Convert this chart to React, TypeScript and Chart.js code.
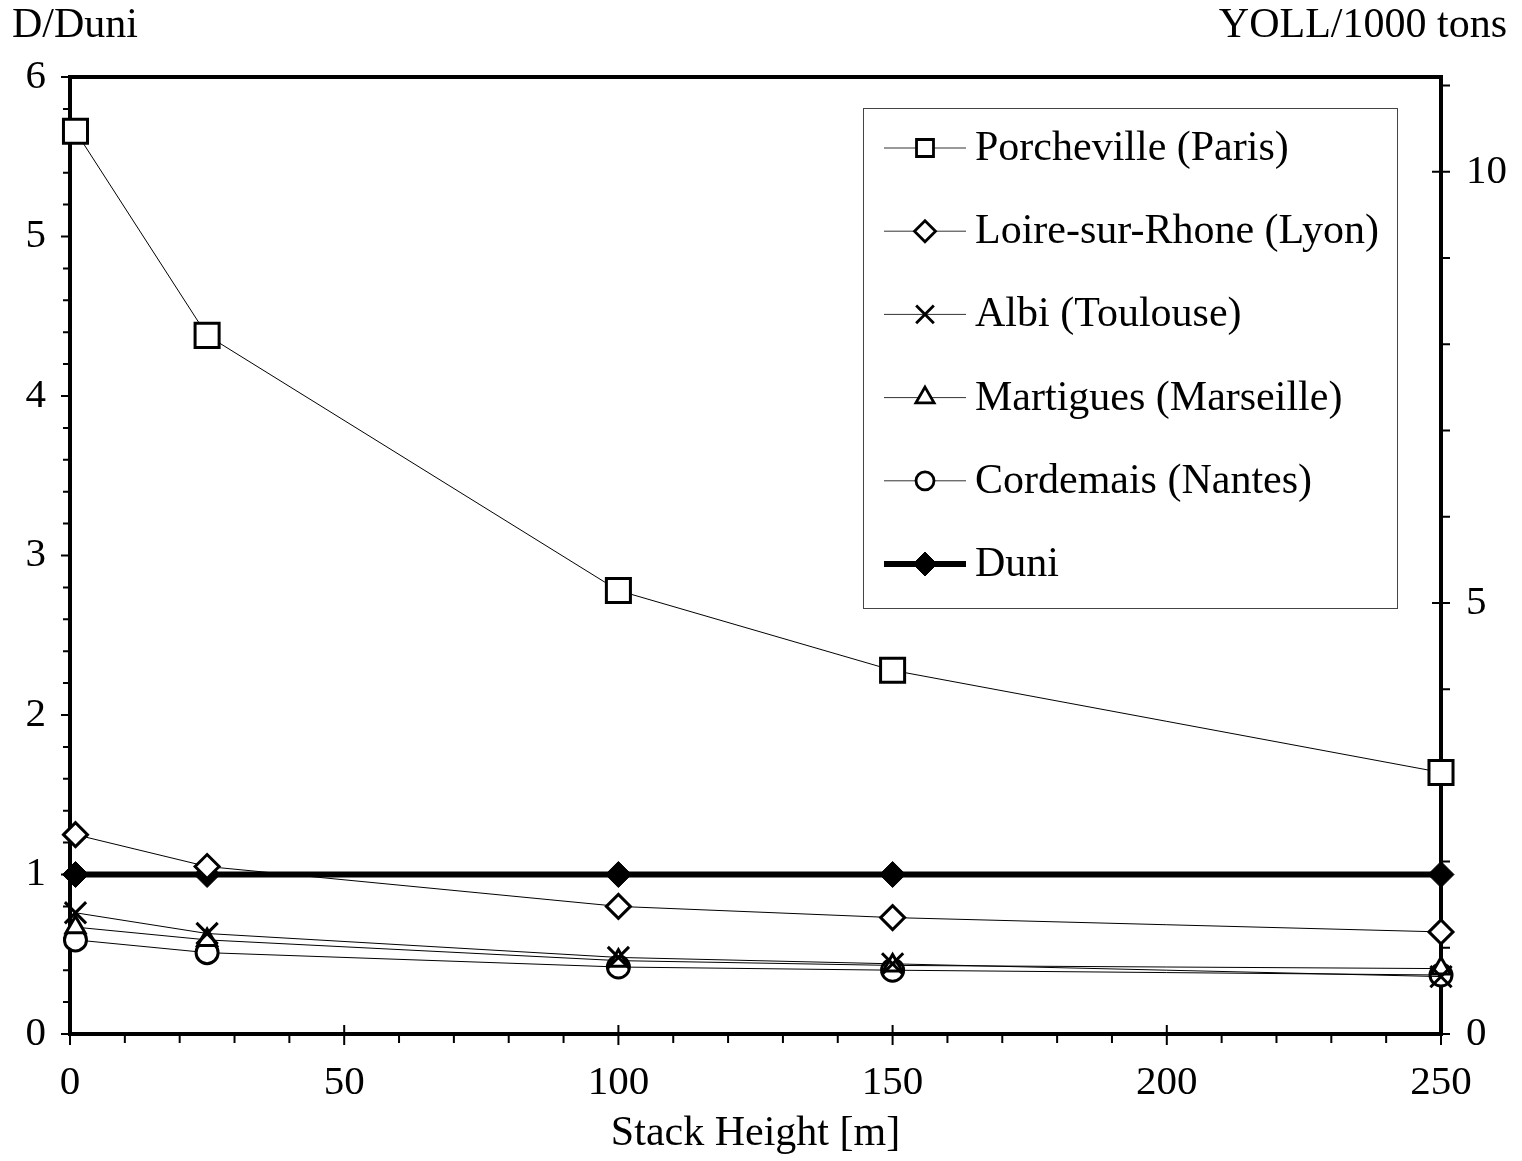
import React, { useEffect, useRef } from 'react';
import { Chart, registerables } from 'chart.js';
import { drawPoint } from 'chart.js/helpers';

Chart.register(...registerables);

const stackHeights = [1, 25, 100, 150, 250];
const porcheville = [5.66, 4.38, 2.78, 2.28, 1.64];
const loire = [1.25, 1.05, 0.8, 0.73, 0.64];
const albi = [0.76, 0.63, 0.48, 0.44, 0.36];
const martigues = [0.67, 0.59, 0.46, 0.43, 0.41];
const cordemais = [0.59, 0.51, 0.42, 0.4, 0.37];
const duni = [1, 1, 1, 1, 1];

const seriesNames = [
  'Porcheville (Paris)',
  'Loire-sur-Rhone (Lyon)',
  'Albi (Toulouse)',
  'Martigues (Marseille)',
  'Cordemais (Nantes)',
  'Duni',
];
const leftAxisLabel = 'D/Duni';
const rightAxisLabel = 'YOLL/1000 tons';
const xAxisLabel = 'Stack Height [m]';

const xMin = 0;
const xMax = 250;
const xMajor = 50;
const xMinor = 10;
const yLeftMax = 6;
const yLeftMinor = 0.2;
const yRightMax = 11.1;
const yRightMajor = 5;
const yRightMinor = 1;

const FONT = '"Liberation Serif", "Times New Roman", Times, serif';
const FS_TICK = 41;
const FS = 42;

const pts = (vals: number[]) => vals.map((y, i) => ({ x: stackHeights[i], y }));

const styles = [
  { pointStyle: 'rect', radius: 17, legendRadius: 12, lineWidth: 1, fill: '#fff', border: 3 },
  { pointStyle: 'rectRot', radius: 12, legendRadius: 10.5, lineWidth: 1, fill: '#fff', border: 3 },
  { pointStyle: 'crossRot', radius: 15, legendRadius: 12.5, lineWidth: 1, fill: '#fff', border: 3 },
  { pointStyle: 'triangle', radius: 11, legendRadius: 10.5, lineWidth: 1, fill: '#fff', border: 3 },
  { pointStyle: 'circle', radius: 11, legendRadius: 9, lineWidth: 1, fill: '#fff', border: 3 },
  { pointStyle: 'rectRot', radius: 13, legendRadius: 12, lineWidth: 6, fill: '#000', border: 1 },
];

const frameTicksPlugin = {
  id: 'frameTicks',
  beforeDatasetsDraw(chart: any) {
    const { ctx, chartArea: a, scales } = chart;
    const x = scales.x;
    const yl = scales.y;
    const yr = scales.y2;
    ctx.save();
    ctx.strokeStyle = '#000';
    ctx.lineWidth = 2;
    ctx.beginPath();
    for (let v = xMin; v <= xMax + 1e-9; v += xMinor) {
      const px = x.getPixelForValue(v);
      const major = Math.abs(v % xMajor) < 1e-6;
      ctx.moveTo(px, major ? a.bottom - 9 : a.bottom);
      ctx.lineTo(px, a.bottom + (major ? 11 : 9));
    }
    for (let i = 0; i <= Math.round(yLeftMax / yLeftMinor); i++) {
      const v = i * yLeftMinor;
      const py = yl.getPixelForValue(v);
      const major = i % 5 === 0;
      ctx.moveTo(a.left - (major ? 9 : 7), py);
      ctx.lineTo(a.left, py);
    }
    for (let v = 0; v <= yRightMax + 1e-9; v += yRightMinor) {
      const py = yr.getPixelForValue(v);
      const major = v % yRightMajor === 0;
      ctx.moveTo(a.right - (major ? 9 : 0), py);
      ctx.lineTo(a.right + 9, py);
    }
    ctx.stroke();
    ctx.lineWidth = 4;
    ctx.strokeRect(a.left, a.top, a.right - a.left, a.bottom - a.top);
    ctx.restore();
  },
  afterDraw(chart: any) {
    const { ctx } = chart;
    ctx.save();
    ctx.fillStyle = '#000';
    ctx.font = `${FS}px ${FONT}`;
    ctx.textBaseline = 'alphabetic';
    ctx.textAlign = 'left';
    ctx.fillText(leftAxisLabel, 12, 37);
    ctx.textAlign = 'right';
    ctx.fillText(rightAxisLabel, 1507, 37);

    // legend
    const bx = 863, by = 108, bw = 534, bh = 500;
    ctx.fillStyle = '#fff';
    ctx.fillRect(bx, by, bw, bh);
    ctx.strokeStyle = '#444';
    ctx.lineWidth = 1;
    ctx.strokeRect(bx + 0.5, by + 0.5, bw, bh);
    const rowGap = 83.2;
    chart.data.datasets.forEach((ds: any, i: number) => {
      const cy = by + 40 + i * rowGap;
      const st = styles[i];
      ctx.strokeStyle = i === 5 ? '#000' : '#333';
      ctx.lineWidth = st.lineWidth;
      ctx.beginPath();
      ctx.moveTo(884, cy);
      ctx.lineTo(966, cy);
      ctx.stroke();
      ctx.fillStyle = st.fill;
      ctx.strokeStyle = '#000';
      ctx.lineWidth = i === 5 ? 1 : 2.8;
      drawPoint(ctx, { pointStyle: st.pointStyle as any, radius: st.legendRadius, rotation: 0, borderWidth: ctx.lineWidth }, 925, cy);
      ctx.fillStyle = '#000';
      ctx.font = `${FS}px ${FONT}`;
      ctx.textAlign = 'left';
      ctx.textBaseline = 'middle';
      ctx.fillText(ds.label, 975, cy + 1);
    });
    ctx.restore();
  },
};

export default function App() {
  const ref = useRef<HTMLCanvasElement | null>(null);
  useEffect(() => {
    if (!ref.current) return;
    const all = [porcheville, loire, albi, martigues, cordemais, duni];
    const chart = new Chart(ref.current, {
      type: 'line',
      data: {
        datasets: all.map((vals, i) => ({
          label: seriesNames[i],
          data: pts(vals),
          yAxisID: 'y',
          borderColor: '#000',
          borderWidth: styles[i].lineWidth,
          backgroundColor: styles[i].fill,
          pointStyle: styles[i].pointStyle as any,
          pointRadius: styles[i].radius,
          pointBorderWidth: styles[i].border,
          pointBackgroundColor: styles[i].fill,
          pointBorderColor: '#000',
          tension: 0,
          fill: false,
          clip: false as any,
        })),
      },
      options: {
        animation: false,
        responsive: false,
        layout: { padding: { top: 77, left: 0, right: 0, bottom: 0 } },
        plugins: { legend: { display: false }, tooltip: { enabled: false } },
        scales: {
          x: {
            type: 'linear',
            min: xMin,
            max: xMax,
            grid: { display: false, drawTicks: false },
            border: { display: false },
            ticks: { stepSize: xMajor, color: '#000', font: { family: FONT, size: FS_TICK }, padding: 25, maxRotation: 0 },
            title: { display: true, text: xAxisLabel, color: '#000', font: { family: FONT, size: FS }, padding: { top: 0, bottom: 2 } },
            afterFit: (s: any) => { s.height = 127; },
          },
          y: {
            type: 'linear',
            position: 'left',
            min: 0,
            max: yLeftMax,
            grid: { display: false, drawTicks: false },
            border: { display: false },
            ticks: { stepSize: 1, color: '#000', font: { family: FONT, size: FS_TICK }, padding: 24 },
            afterFit: (s: any) => { s.width = 70; },
          },
          y2: {
            type: 'linear',
            position: 'right',
            min: 0,
            max: yRightMax,
            grid: { display: false, drawTicks: false },
            border: { display: false },
            ticks: { stepSize: yRightMajor, includeBounds: false, color: '#000', font: { family: FONT, size: FS_TICK }, padding: 25 },
            afterFit: (s: any) => { s.width = 81; },
          },
        },
      } as any,
      plugins: [frameTicksPlugin],
    });
    return () => chart.destroy();
  }, []);
  return (
    <div style={{ position: 'fixed', left: 0, top: 0, width: 1522, height: 1161, background: '#fff' }}>
      <canvas ref={ref} width={1522} height={1161} style={{ display: 'block' }} />
    </div>
  );
}
